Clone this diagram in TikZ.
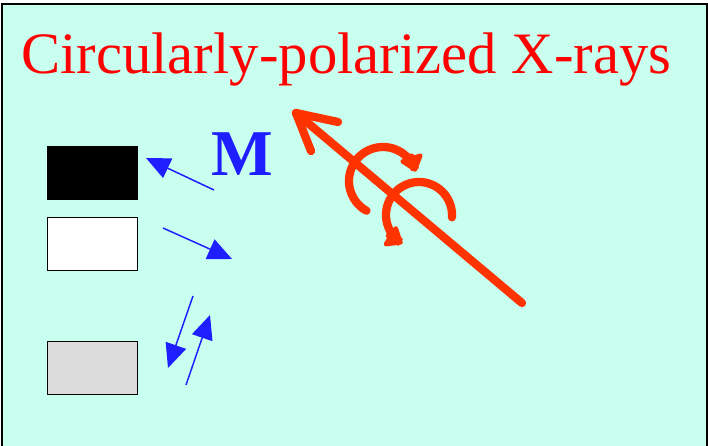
\documentclass[tikz,border=0pt]{standalone}
\usepackage{fontspec}
\setmainfont{Liberation Serif}
\usetikzlibrary{arrows.meta}
\definecolor{bgcyan}{RGB}{200,255,238}
\definecolor{xred}{RGB}{255,51,0}
\definecolor{titlered}{RGB}{255,0,0}
\definecolor{mblue}{RGB}{30,30,255}
\definecolor{boxgray}{RGB}{220,220,220}
\tikzset{
  x=0.75pt, y=-0.75pt,
  domainbox/.style={draw=black, line width=1.1pt, minimum width=67.5pt, minimum height=39.75pt, inner sep=0pt, anchor=north west},
  magarrow/.style={draw=mblue, line width=1.1pt, -{Triangle[length=18pt,width=16pt]}},
  beam/.style={draw=xred, line width=6.2pt, line cap=round, line join=round},
  helix/.style={draw=xred, line width=6.2pt, line cap=round, -{Triangle[length=13pt,width=20pt,round]}}
}
\begin{document}
\begin{tikzpicture}
\useasboundingbox (0,0) rectangle (708,446);
\fill[bgcyan] (2,4) rectangle (707,446);
\draw[black, line width=1.5pt] (2,446) -- (2,4) -- (707,4) -- (707,446);

\node[anchor=base west, inner sep=0pt, text=titlered, font=\fontsize{44}{50}\selectfont] (title) at (21,74) {Circularly-polarized X-rays};
\node[anchor=base west, inner sep=0pt, text=mblue, font=\fontsize{49}{55}\selectfont\bfseries] (M) at (211,175) {M};

\node[domainbox, fill=black] (b1) at (47,146) {};
\node[domainbox, fill=white] (b2) at (47,217) {};
\node[domainbox, fill=boxgray] (b3) at (47,341) {};

\coordinate (a1s) at (214,190); \coordinate (a1e) at (146,158);
\coordinate (a2s) at (163,228); \coordinate (a2e) at (232,259);
\coordinate (a3s) at (193,296); \coordinate (a3e) at (168,368);
\coordinate (a4s) at (186,385); \coordinate (a4e) at (210,315);
\draw[magarrow] (a1s) -- (a1e);
\draw[magarrow] (a2s) -- (a2e);
\draw[magarrow] (a3s) -- (a3e);
\draw[magarrow] (a4s) -- (a4e);

\coordinate (rs) at (522,303);
\coordinate (rt) at (296,113);
\coordinate (rw1) at (338,122);
\coordinate (rw2) at (311,151);
\draw[beam] (rs) -- (rt);
\draw[beam] (rw1) -- (rt) -- (rw2);

\draw[helix] plot[domain=241:16, samples=60] ({383+34*cos(\x)}, {181-34*sin(\x)});
\draw[helix] plot[domain=-4:240, samples=60] ({419+33*cos(\x)}, {215-33*sin(\x)});
\end{tikzpicture}
\end{document}
